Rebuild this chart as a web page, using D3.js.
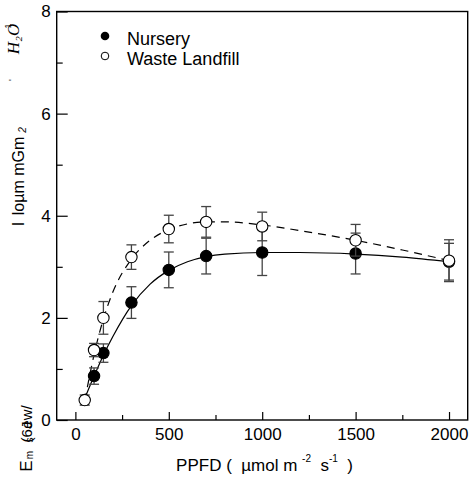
<!DOCTYPE html>
<html>
<head>
<meta charset="utf-8">
<script src="https://cdn.jsdelivr.net/npm/d3@7"></script>
<style>
body { margin: 0; background: #fff; }
text { font-family: "Liberation Sans", Arial, sans-serif; fill: #000; }
</style>
</head>
<body>
<script>
// measured points (mean +- error)
var ppfdNursery = [100, 150, 300, 500, 700, 1000, 1500, 2000];
var nursery = [0.86, 1.31, 2.30, 2.94, 3.21, 3.28, 3.26, 3.10];
var nurseryErr = [0.16, 0.18, 0.31, 0.35, 0.35, 0.45, 0.40, 0.36];

var ppfdWaste = [50, 100, 150, 300, 500, 700, 1000, 1500, 2000];
var waste = [0.39, 1.37, 2.00, 3.19, 3.74, 3.88, 3.79, 3.52, 3.12];
var wasteErr = [0.10, 0.13, 0.32, 0.24, 0.27, 0.30, 0.28, 0.31, 0.41];

// fitted curves
var fitX = [50, 100, 150, 200, 300, 400, 500, 600, 700, 800, 1000, 1200, 1500, 1750, 2000];
var nurseryFit = [0.42, 0.86, 1.27, 1.63, 2.24, 2.66, 2.93, 3.10, 3.20, 3.25, 3.28, 3.28, 3.25, 3.19, 3.10];
var wasteFit = [0.37, 1.28, 1.98, 2.50, 3.15, 3.52, 3.73, 3.84, 3.88, 3.88, 3.82, 3.71, 3.52, 3.33, 3.12];

var xMajor = [0, 500, 1000, 1500, 2000];
var xMinor = [250, 750, 1250, 1750];
var yMajor = [0, 2, 4, 6, 8];
var yMinor = [1, 3, 5, 7];

var svg = d3.select('body').append('svg')
  .attr('width', 470).attr('height', 477);

var x = d3.scaleLinear().domain([-100, 2100]).range([56.7, 467.7]);
var y = d3.scaleLinear().domain([0, 8]).range([420, 11.5]);

// frame
svg.append('rect')
  .attr('x', x(-100)).attr('y', y(8))
  .attr('width', x(2100) - x(-100)).attr('height', y(0) - y(8))
  .attr('fill', 'none').attr('stroke', '#000').attr('stroke-width', 1.4);

// x axis
var gx = svg.append('g').attr('transform', 'translate(0,' + y(0) + ')');
gx.call(d3.axisBottom(x).tickValues(xMajor).tickSize(-8).tickPadding(8).tickFormat(d3.format('d')));
var gx2 = svg.append('g').attr('transform', 'translate(0,' + y(0) + ')');
gx2.call(d3.axisBottom(x).tickValues(xMinor).tickSize(-5).tickFormat(''));

// y axis
var gy = svg.append('g').attr('transform', 'translate(' + x(-100) + ',0)');
gy.call(d3.axisLeft(y).tickValues(yMajor).tickSize(-11).tickPadding(6).tickFormat(d3.format('d')));
var gy2 = svg.append('g').attr('transform', 'translate(' + x(-100) + ',0)');
gy2.call(d3.axisLeft(y).tickValues(yMinor).tickSize(-6).tickFormat(''));

svg.selectAll('.domain').remove();
svg.selectAll('.tick line').attr('stroke', '#000').attr('stroke-width', 1.2);
svg.selectAll('.tick text').attr('font-size', 17).attr('font-family', '"Liberation Sans", Arial, sans-serif');

// x axis title
var xt = svg.append('text').attr('x', 264.5).attr('y', 471)
  .attr('text-anchor', 'middle').attr('font-size', 17)
  .style('white-space', 'pre');
xt.append('tspan').text('PPFD (  \u00b5mol m ');
xt.append('tspan').attr('font-size', 10).attr('dy', -9).text('-2');
xt.append('tspan').attr('dy', 9).text('  s');
xt.append('tspan').attr('font-size', 10).attr('dy', -9).text('-1');
xt.append('tspan').attr('dy', 9).text('  )');

// y axis title (garbled in the source, kept as pieces)
function ylab(px, py, txt, size, style, fam) {
  svg.append('text')
    .attr('transform', 'translate(' + px + ',' + py + ') rotate(-90)')
    .attr('text-anchor', 'middle')
    .attr('font-size', size)
    .attr('font-style', style || 'normal')
    .style('font-family', fam || '"Liberation Sans", Arial, sans-serif')
    .text(txt);
}
ylab(32, 466, 'E', 17);
ylab(33, 455, 'm', 10);
ylab(33, 440, 's', 10);
ylab(32, 432, '(6J', 15);
ylab(32, 417, 'ew/', 15);
ylab(24, 224, 'l', 16);
ylab(24, 176, 'lo\u00b5m mGm', 16);
ylab(26, 130, '2', 10, 'italic');
ylab(18, 80, '\u02c8', 13);
ylab(19, 39, 'H\u2082O', 17, 'italic', '"Liberation Serif", "DejaVu Serif", serif');
ylab(11, 26, '1', 9);

// fitted curves
var line = d3.line()
  .x(function(d, i) { return x(fitX[i]); })
  .y(function(d) { return y(d); })
  .curve(d3.curveMonotoneX);

svg.append('path').attr('d', line(nurseryFit))
  .attr('fill', 'none').attr('stroke', '#000').attr('stroke-width', 1.2);
svg.append('path').attr('d', line(wasteFit))
  .attr('fill', 'none').attr('stroke', '#000').attr('stroke-width', 1.2)
  .attr('stroke-dasharray', '8,6');

// error bars + markers
function series(xs, vals, errs, fill) {
  var g = svg.append('g');
  var pts = vals.map(function(v, i) { return {x: xs[i], v: v, e: errs[i]}; });
  var eb = g.selectAll('g.eb').data(pts).enter().append('g')
    .attr('stroke', '#444').attr('stroke-width', 1.3);
  eb.append('line')
    .attr('x1', function(d) { return x(d.x); }).attr('x2', function(d) { return x(d.x); })
    .attr('y1', function(d) { return y(d.v + d.e); }).attr('y2', function(d) { return y(d.v - d.e); });
  eb.append('line')
    .attr('x1', function(d) { return x(d.x) - 5; }).attr('x2', function(d) { return x(d.x) + 5; })
    .attr('y1', function(d) { return y(d.v + d.e); }).attr('y2', function(d) { return y(d.v + d.e); });
  eb.append('line')
    .attr('x1', function(d) { return x(d.x) - 5; }).attr('x2', function(d) { return x(d.x) + 5; })
    .attr('y1', function(d) { return y(d.v - d.e); }).attr('y2', function(d) { return y(d.v - d.e); });
  g.selectAll('circle').data(pts).enter().append('circle')
    .attr('cx', function(d) { return x(d.x); })
    .attr('cy', function(d) { return y(d.v); })
    .attr('r', 5.7)
    .attr('fill', fill).attr('stroke', '#000').attr('stroke-width', 1.1);
}
series(ppfdNursery, nursery, nurseryErr, '#000');
series(ppfdWaste, waste, wasteErr, '#fff');

// legend
svg.append('circle').attr('cx', 105).attr('cy', 36).attr('r', 4.3).attr('fill', '#000');
svg.append('circle').attr('cx', 105).attr('cy', 56).attr('r', 3.8)
  .attr('fill', '#fff').attr('stroke', '#000').attr('stroke-width', 1);
svg.append('text').attr('x', 127).attr('y', 44.5).attr('font-size', 18).text('Nursery');
svg.append('text').attr('x', 127).attr('y', 64.5).attr('font-size', 18).text('Waste Landfill');
</script>
</body>
</html>
